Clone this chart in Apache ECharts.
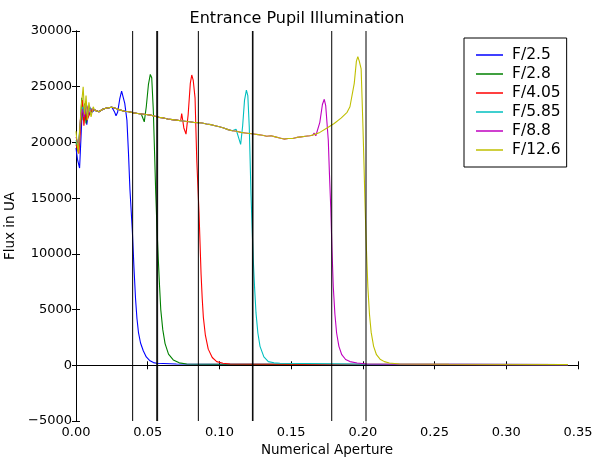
<!DOCTYPE html>
<html>
<head>
<meta charset="utf-8">
<script src="https://cdn.jsdelivr.net/npm/echarts@6/dist/echarts.min.js"></script>
<style>html,body{margin:0;padding:0;background:#fff}#c{width:594px;height:457px}</style>
</head>
<body>
<div id="c"></div>
<script>
// ---- data ----
const seriesNames = ['F/2.5', 'F/2.8', 'F/4.05', 'F/5.85', 'F/8.8', 'F/12.6'];
const seriesColors = ['#0000ff', '#008000', '#ff0000', '#00bfbf', '#bf00bf', '#bfbf00'];
const xTicks = [0, 0.05, 0.10, 0.15, 0.20, 0.25, 0.30, 0.35];
const yTicks = [-5000, 0, 5000, 10000, 15000, 20000, 25000, 30000];
const cutoffLines = [0.0395, 0.0563, 0.0569, 0.0853, 0.1230, 0.1234, 0.1783, 0.2022];

// shared plateau (NA, flux) after the noisy start
const plateau = [
  [0.013,22900],[0.016,22750],[0.019,23000],[0.022,23100],[0.025,23150],[0.028,23050],
  [0.031,22900],[0.034,22800],[0.037,22750],[0.040,22650],[0.043,22600],[0.046,22550],
  [0.049,22500],[0.052,22450],[0.055,22350],[0.058,22250],[0.061,22200],[0.064,22100],
  [0.067,22050],[0.070,22000],[0.073,21950],[0.076,21900],[0.079,21850],[0.082,21800],
  [0.085,21780],[0.088,21750],[0.091,21650],[0.094,21600],[0.097,21500],[0.100,21400],
  [0.103,21300],[0.106,21150],[0.109,21050],[0.112,21000],[0.115,20900],[0.118,20850],
  [0.121,20800],[0.124,20750],[0.127,20700],[0.130,20650],[0.133,20550],[0.136,20600],
  [0.139,20500],[0.142,20400],[0.145,20300],[0.148,20350],[0.151,20350],[0.154,20450],
  [0.157,20500],[0.160,20550],[0.163,20600],[0.166,20700]
];

// noisy start of each series
const startBlue    = [[0,19500],[0.001,18500],[0.0025,17700],[0.0035,20500],[0.0045,23500],[0.0055,22000],[0.0065,23300],[0.0075,21600],[0.0085,22500],[0.0095,23200],[0.011,22700]];
const startGreen   = [[0,20000],[0.0015,19200],[0.003,21500],[0.004,24000],[0.005,22000],[0.006,23500],[0.007,21700],[0.008,23000],[0.0095,22500],[0.011,23000]];
const startRed     = [[0,19800],[0.002,19000],[0.003,21000],[0.0045,23800],[0.0055,21500],[0.0065,22800],[0.0075,22000],[0.009,22400],[0.011,22900]];
const startCyan    = [[0,20200],[0.0015,19500],[0.0035,22500],[0.0045,23200],[0.006,22500],[0.007,23500],[0.0085,22800],[0.010,23000]];
const startMagenta = [[0,20500],[0.002,19700],[0.003,22000],[0.0045,23000],[0.0055,22300],[0.0075,23300],[0.009,22600],[0.011,23000]];
const startYellow  = [[0,21000],[0.0015,19000],[0.0035,23000],[0.005,25000],[0.006,22500],[0.007,24200],[0.008,22000],[0.009,23600],[0.0105,22300],[0.012,23200]];

// bump + fall-off of each series
const edgeBlue    = [[0.027,22700],[0.0279,22400],[0.029,22700],[0.0305,23900],[0.0318,24600],[0.0328,24500],[0.0340,23500],[0.0355,22000],[0.0366,19000],[0.0376,15800],[0.0393,12000],[0.0404,8800],[0.0415,6000],[0.0425,4200],[0.0436,2900],[0.0450,2000],[0.0469,1300],[0.0490,750],[0.0516,400],[0.0540,240],[0.0563,180],[0.070,120],[0.150,80],[0.343,60]];
const edgeGreen   = [[0.0455,22550],[0.0462,22450],[0.0476,21850],[0.0490,23200],[0.0505,25200],[0.0518,26100],[0.0528,25800],[0.0539,22900],[0.0548,19000],[0.0556,15400],[0.0565,12200],[0.0574,9450],[0.0583,7000],[0.0591,5000],[0.0605,3200],[0.0621,1950],[0.0645,1000],[0.0678,480],[0.0720,220],[0.0772,120],[0.150,80],[0.343,60]];
const edgeRed     = [[0.0730,21950],[0.0737,22600],[0.0752,21300],[0.0767,20750],[0.0782,22500],[0.0797,25300],[0.0807,26050],[0.0817,25600],[0.0830,24000],[0.0842,18400],[0.0858,13600],[0.0872,8200],[0.0880,6000],[0.0888,4300],[0.0902,2700],[0.0922,1450],[0.0950,700],[0.0981,330],[0.1025,180],[0.1074,120],[0.200,80],[0.343,60]];
const edgeCyan    = [[0.1100,21050],[0.1116,21180],[0.1132,20500],[0.1148,19830],[0.1162,21500],[0.1175,23800],[0.1188,24700],[0.1198,24200],[0.1208,21400],[0.1214,18400],[0.1220,15400],[0.1228,12300],[0.1236,9450],[0.1245,7000],[0.1255,4700],[0.1268,2900],[0.1283,1700],[0.1310,750],[0.1341,330],[0.1380,220],[0.1422,180],[0.200,100],[0.343,60]];
const edgeMagenta = [[0.1650,20650],[0.1660,20850],[0.1672,20600],[0.1682,20430],[0.1700,21800],[0.1718,23400],[0.1731,23870],[0.1741,23300],[0.1759,20200],[0.1767,17200],[0.1776,14200],[0.1785,10300],[0.1794,7000],[0.1805,4600],[0.1817,2900],[0.1833,1700],[0.1853,950],[0.1880,520],[0.1910,330],[0.1960,200],[0.2027,120],[0.260,80],[0.343,60]];
const edgeYellow  = [[0.170,20900],[0.175,21300],[0.180,21700],[0.185,22200],[0.1890,22700],[0.1910,23200],[0.1922,23050],[0.1940,25300],[0.1955,27300],[0.1965,27700],[0.1975,27300],[0.1988,26600],[0.2000,21700],[0.2008,18000],[0.2015,14500],[0.2025,10400],[0.2035,7000],[0.2046,4600],[0.2058,2950],[0.2075,1700],[0.2095,950],[0.2120,550],[0.2150,330],[0.2185,210],[0.2255,120],[0.260,90],[0.343,70]];

const starts = [startBlue, startGreen, startRed, startCyan, startMagenta, startYellow];
const edges  = [edgeBlue, edgeGreen, edgeRed, edgeCyan, edgeMagenta, edgeYellow];

// ---- build series ----
function buildData(start, edge) {
  const lastStart = start[start.length - 1][0];
  const firstEdge = edge[0][0];
  const mid = plateau.filter(p => p[0] > lastStart && p[0] < firstEdge);
  return start.concat(mid, edge);
}

const FONT = 'DejaVu Sans';
const series = seriesNames.map((n, i) => ({
  name: n, type: 'line', showSymbol: false, symbol: 'none', smooth: false,
  data: buildData(starts[i], edges[i]),
  lineStyle: { color: seriesColors[i], width: 1.1 },
  itemStyle: { color: seriesColors[i] },
  animation: false, z: 2
}));
cutoffLines.forEach((v, k) => {
  series.push({
    name: 'cutoff' + k, type: 'line', showSymbol: false, symbol: 'none', silent: true,
    animation: false, z: 5,
    data: [[v, -5000], [v, 30000]],
    lineStyle: { color: '#000', width: 1 }
  });
});

const axisCommon = {
  axisLine: { show: true, lineStyle: { color: '#000', width: 1 } },
  axisTick: { show: true, inside: true, length: 4, lineStyle: { color: '#000' } },
  splitLine: { show: false }
};

const chart = echarts.init(document.getElementById('c'), null, { renderer: 'canvas' });
chart.setOption({
  backgroundColor: '#fff',
  animation: false,
  title: {
    text: 'Entrance Pupil Illumination', left: 'center', top: 6,
    textStyle: { fontFamily: FONT, fontSize: 16, fontWeight: 'normal', color: '#000' }
  },
  grid: { left: 76, right: 16, top: 31, bottom: 36, containLabel: false, outerBoundsMode: 'none' },
  legend: {
    data: seriesNames, orient: 'vertical', left: 464, top: 38,
    backgroundColor: '#fff', borderColor: '#000', borderWidth: 1,
    padding: [9, 6, 9, 12], itemWidth: 27, itemHeight: 1.5, itemGap: 3,
    icon: 'rect',
    textStyle: { fontFamily: FONT, fontSize: 15.5, color: '#000', padding: [0, 0, 0, 4] }
  },
  xAxis: [
    Object.assign({
      type: 'value', min: 0, max: 0.35, interval: 0.05, position: 'bottom',
      name: 'Numerical Aperture', nameLocation: 'middle', nameGap: 20,
      nameTextStyle: { fontFamily: FONT, fontSize: 13.5, color: '#000' },
      axisLabel: { fontFamily: FONT, fontSize: 13, color: '#000', margin: 5,
        formatter: v => v.toFixed(2) }
    }, axisCommon),
    Object.assign({
      type: 'value', min: 0, max: 0.35, interval: 0.05, position: 'top',
      axisLabel: { show: false }
    }, axisCommon)
  ],
  yAxis: [
    Object.assign({
      type: 'value', min: -5000, max: 30000, interval: 5000, position: 'left',
      name: 'Flux in UA', nameLocation: 'middle', nameGap: 58,
      nameTextStyle: { fontFamily: FONT, fontSize: 13.5, color: '#000' },
      axisLabel: { fontFamily: FONT, fontSize: 13, color: '#000', margin: 4,
        formatter: v => String(v).replace('-', '\u2212') }
    }, axisCommon),
    Object.assign({
      type: 'value', min: -5000, max: 30000, interval: 5000, position: 'right',
      axisLabel: { show: false }
    }, axisCommon)
  ],
  series: series
});
</script>
</body>
</html>
